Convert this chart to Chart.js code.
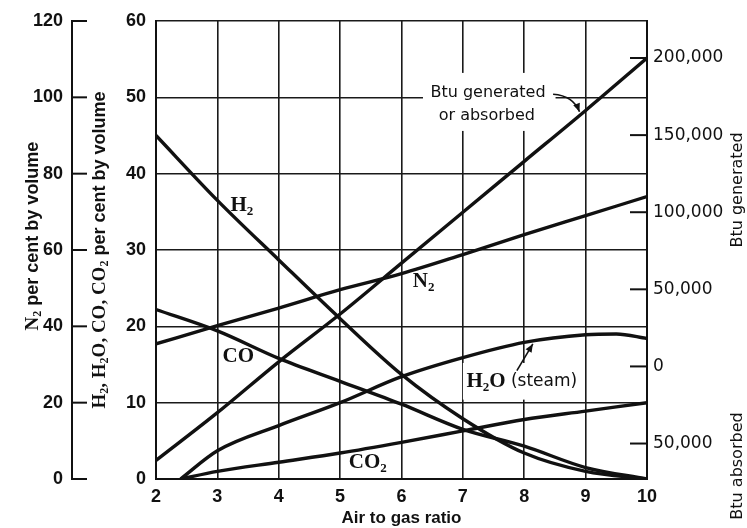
<!DOCTYPE html>
<html>
<head>
<meta charset="utf-8">
<script src="https://cdn.jsdelivr.net/npm/chart.js@4.4.1/dist/chart.umd.min.js"></script>
<style>
  html, body { margin: 0; padding: 0; background: #fff; }
  #wrap { width: 747px; height: 528px; }
</style>
</head>
<body>
<div id="wrap"><canvas id="gasChart" width="747" height="528"></canvas></div>
<script>
// values
const airRatio = [2, 3, 4, 5, 6, 7, 8, 9, 10];
const h2Pct  = [45, 36.5, 28.7, 21, 13.7, 7.9, 3.4, 1.0, 0];
const coPct  = [22.2, 19.4, 15.8, 12.8, 9.8, 6.5, 4.3, 1.5, 0];
const n2Pct  = [35.4, 40.2, 44.8, 49.6, 53.8, 58.8, 64, 69, 74];
const btu    = [-61000, -30000, 3000, 34000, 67000, 100000, 133000, 166000, 200000];
const h2oRatio = [2.4, 3, 4, 5, 6, 7, 8, 9, 9.5, 10];
const h2oPct   = [0, 3.7, 7, 10, 13.4, 15.9, 17.9, 18.9, 19, 18.4];
const co2Ratio = [2.4, 3, 4, 5, 6, 7, 8, 9, 10];
const co2Pct   = [0, 1.0, 2.2, 3.4, 4.8, 6.3, 7.8, 8.9, 10];

const gasTicks = [0, 10, 20, 30, 40, 50, 60];
const n2Ticks  = [0, 20, 40, 60, 80, 100, 120];
const btuTicks = [-50000, 0, 50000, 100000, 150000, 200000];

const INK = '#111';
const SANS = '"Liberation Sans", Arial, sans-serif';
const DSANS = '"DejaVu Sans", sans-serif';
const SERIF = '"Liberation Serif", "Times New Roman", serif';

const pts = (xs, ys) => xs.map((x, i) => ({x: x, y: ys[i]}));

function line(data, axis) {
  return {
    data: data, yAxisID: axis, borderColor: INK, borderWidth: 3.4,
    pointRadius: 0, cubicInterpolationMode: 'monotone', fill: false
  };
}

// rich text: '_' marks the next char as a subscript
function chem(str, px) {
  const segs = [];
  for (let i = 0; i < str.length; i++) {
    if (str[i] === '_') {
      segs.push({t: str[++i], f: `bold ${Math.round(px * 0.62)}px ${SERIF}`, dy: px * 0.28});
    } else {
      const last = segs[segs.length - 1];
      if (last && !last.dy && last.serif) last.t += str[i];
      else segs.push({t: str[i], f: `bold ${px}px ${SERIF}`, dy: 0, serif: true});
    }
  }
  return segs;
}
function drawRich(ctx, segs, cx, cy, rot) {
  ctx.save();
  ctx.translate(cx, cy);
  ctx.rotate(rot || 0);
  ctx.textBaseline = 'middle';
  ctx.textAlign = 'left';
  let w = 0;
  segs.forEach(s => { ctx.font = s.f; w += ctx.measureText(s.t).width; });
  let x0 = -w / 2;
  segs.forEach(s => {
    ctx.font = s.f;
    ctx.fillText(s.t, x0, s.dy || 0);
    x0 += ctx.measureText(s.t).width;
  });
  ctx.restore();
}
function arrowHead(ctx, fx, fy, tx, ty, size) {
  const a = Math.atan2(ty - fy, tx - fx);
  ctx.beginPath();
  ctx.moveTo(tx, ty);
  ctx.lineTo(tx - size * Math.cos(a - 0.4), ty - size * Math.sin(a - 0.4));
  ctx.lineTo(tx - size * Math.cos(a + 0.4), ty - size * Math.sin(a + 0.4));
  ctx.closePath();
  ctx.fill();
}

const notes = {
  id: 'notes',
  beforeDatasetsDraw(chart) {
    const {ctx, scales: {x, y}} = chart;
    ctx.save();
    ctx.fillStyle = '#fff';
    // label backgrounds that break the grid
    let l = x.getPixelForValue(6.35), r = x.getPixelForValue(8.51);
    ctx.fillRect(l, y.getPixelForValue(53.2), r - l, y.getPixelForValue(45.6) - y.getPixelForValue(53.2));
    l = x.getPixelForValue(7.0); r = x.getPixelForValue(8.95);
    ctx.fillRect(l, y.getPixelForValue(15.2), r - l, y.getPixelForValue(10.4) - y.getPixelForValue(15.2));
    ctx.restore();
  },
  afterDatasetsDraw(chart) {
    const {ctx, scales: {x, y, y2, yN2}, chartArea: ca} = chart;
    const P = (a, b) => [x.getPixelForValue(a), y.getPixelForValue(b)];
    ctx.save();
    ctx.fillStyle = INK;
    ctx.strokeStyle = INK;

    // N2 axis ticks point toward the plot
    ctx.lineWidth = 2;
    yN2.ticks.forEach(t => {
      const py = yN2.getPixelForValue(t.value);
      ctx.beginPath(); ctx.moveTo(yN2.right, py); ctx.lineTo(yN2.right + 15, py); ctx.stroke();
    });
    // Btu ticks sit inside the frame
    y2.ticks.forEach(t => {
      const py = y2.getPixelForValue(t.value);
      ctx.beginPath(); ctx.moveTo(ca.right - 17, py); ctx.lineTo(ca.right, py); ctx.stroke();
    });

    // curve labels
    let p = P(3.4, 35.8);  drawRich(ctx, chem('H_2', 21), p[0], p[1]);
    p = P(3.34, 16.1);     drawRich(ctx, chem('CO', 21), p[0], p[1]);
    p = P(6.36, 25.8);     drawRich(ctx, chem('N_2', 21), p[0], p[1]);
    p = P(5.45, 2.1);      drawRich(ctx, chem('CO_2', 21), p[0], p[1]);
    p = P(7.96, 12.7);
    drawRich(ctx, chem('H_2O', 21).concat([{t: ' (steam)', f: `17px ${DSANS}`, dy: 0}]), p[0], p[1]);

    ctx.font = `16px ${DSANS}`;
    ctx.textAlign = 'center'; ctx.textBaseline = 'middle';
    p = P(7.41, 50.6); ctx.fillText('Btu generated', p[0], p[1]);
    p = P(7.39, 47.6); ctx.fillText('or absorbed', p[0], p[1]);

    // arrows
    ctx.lineWidth = 1.6;
    const a0 = P(8.47, 50.4), ac = P(8.8, 50.2), a1 = P(8.9, 48.1);
    ctx.beginPath(); ctx.moveTo(a0[0], a0[1]); ctx.quadraticCurveTo(ac[0], ac[1], a1[0], a1[1]); ctx.stroke();
    arrowHead(ctx, ac[0], ac[1], a1[0], a1[1], 9);
    const b0 = P(7.88, 14.2), b1 = P(8.14, 17.7);
    ctx.beginPath(); ctx.moveTo(b0[0], b0[1]); ctx.lineTo(b1[0], b1[1]); ctx.stroke();
    arrowHead(ctx, b0[0], b0[1], b1[0], b1[1], 9);

    // axis titles
    const vol = {t: ' per cent by volume', f: `bold 18px ${SANS}`, dy: 0};
    const midY = (ca.top + ca.bottom) / 2;
    drawRich(ctx, chem('N_2', 19).concat([vol]), 33, midY - 14, -Math.PI / 2);
    drawRich(ctx, chem('H_2, H_2O, CO, CO_2', 19).concat([vol]), 100, midY, -Math.PI / 2);
    ctx.font = `16px ${DSANS}`;
    ctx.save(); ctx.translate(738, 190); ctx.rotate(-Math.PI / 2); ctx.fillText('Btu generated', 0, 0); ctx.restore();
    ctx.save(); ctx.translate(738, 466); ctx.rotate(-Math.PI / 2); ctx.fillText('Btu absorbed', 0, 0); ctx.restore();
    ctx.font = `bold 17px ${SANS}`;
    ctx.fillText('Air to gas ratio', (ca.left + ca.right) / 2, 518);
    ctx.restore();
  }
};

const gridOpts = {color: '#1a1a1a', lineWidth: 1.6, drawTicks: false};
const borderOpts = {display: true, color: INK, width: 2};
const tickFont = {family: SANS, size: 18, weight: 'bold'};

new Chart(document.getElementById('gasChart'), {
  type: 'line',
  data: {
    datasets: [
      line(pts(airRatio, btu), 'y2'),
      line(pts(airRatio, n2Pct), 'yN2'),
      line(pts(airRatio, h2Pct), 'y'),
      line(pts(airRatio, coPct), 'y'),
      line(pts(h2oRatio, h2oPct), 'y'),
      line(pts(co2Ratio, co2Pct), 'y')
    ]
  },
  options: {
    responsive: false,
    animation: false,
    devicePixelRatio: 1,
    layout: {padding: {top: 21, left: 0, right: 0, bottom: 0}},
    plugins: {legend: {display: false}, tooltip: {enabled: false}},
    scales: {
      x: {
        type: 'linear', min: 2, max: 10,
        ticks: {stepSize: 1, font: tickFont, color: INK, padding: 7},
        grid: gridOpts, border: borderOpts,
        afterFit: s => { s.height = 49; }
      },
      y: {
        position: 'left', min: 0, max: 60, weight: 0,
        afterBuildTicks: s => { s.ticks = gasTicks.map(v => ({value: v})); },
        ticks: {font: tickFont, color: INK, padding: 10},
        grid: gridOpts, border: borderOpts,
        afterFit: s => { s.width = 84; }
      },
      yN2: {
        position: 'left', min: 0, max: 120, weight: 1,
        afterBuildTicks: s => { s.ticks = n2Ticks.map(v => ({value: v})); },
        ticks: {font: tickFont, color: INK, padding: 9},
        grid: {drawOnChartArea: false, drawTicks: false},
        border: borderOpts,
        afterFit: s => { s.width = 72; }
      },
      y2: {
        position: 'right', min: -73000, max: 224000,
        afterBuildTicks: s => { s.ticks = btuTicks.map(v => ({value: v})); },
        ticks: {
          font: {family: DSANS, size: 17}, color: INK, padding: 6,
          callback: v => Math.abs(v).toLocaleString('en-US')
        },
        grid: {drawOnChartArea: false, drawTicks: false},
        border: borderOpts,
        afterFit: s => { s.width = 100; }
      }
    }
  },
  plugins: [notes]
});
</script>
</body>
</html>
